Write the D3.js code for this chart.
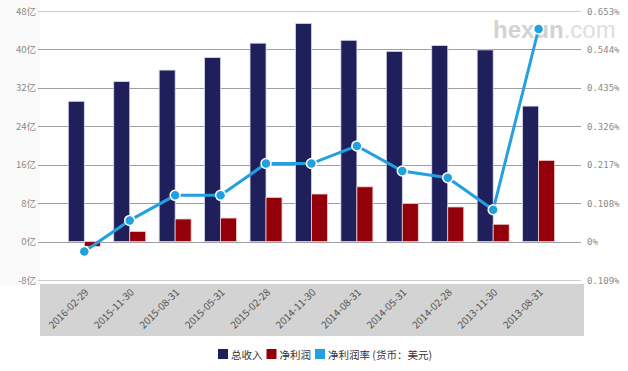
<!DOCTYPE html>
<html>
<head>
<meta charset="utf-8">
<script src="https://cdn.jsdelivr.net/npm/d3@7"></script>
<style>
	body { margin: 0; background: #fff; }
	#outer { width: 628px; height: 371px; }
	text { font-family: 'Noto Sans CJK SC', 'DejaVu Sans', sans-serif; }
</style>
</head>
<body>
<div id="outer"></div>
<script>
// data (亿 / %)
const categories = ['2016-02-29', '2015-11-30', '2015-08-31', '2015-05-31', '2015-02-28', '2014-11-30',
	'2014-08-31', '2014-05-31', '2014-02-28', '2013-11-30', '2013-08-31'];
const revenue = [29.2, 33.3, 35.7, 38.3, 41.3, 45.4, 41.9, 39.6, 40.8, 39.9, 28.2];
const profit = [-1.0, 2.1, 4.7, 4.9, 9.2, 9.9, 11.4, 7.9, 7.2, 3.6, 16.9];
const margin = [-0.028, 0.060, 0.131, 0.131, 0.221, 0.221, 0.271, 0.200, 0.181, 0.090, 0.602];
const leftTicks = [-8, 0, 8, 16, 24, 32, 40, 48];
const rightTicks = ['0.109%', '0%', '0.108%', '0.217%', '0.326%', '0.435%', '0.544%', '0.653%'];
const legendItems = [
	{name: '总收入', color: '#1f1f5c'},
	{name: '净利润', color: '#93000a'},
	{name: '净利润率 (货币：美元)', color: '#23a0e0'}
];

function drawChart () {
	const W = 628, H = 371;
	const plotLeft = 38, plotRight = 581, plotTop = 11, plotBottom = 280;
	const textColor = '#8a8a8a';

	const svg = d3.select('#outer').append('svg')
		.attr('width', W)
		.attr('height', H);

	const y = d3.scaleLinear().domain([-8, 48]).range([plotBottom, plotTop]);
	const yR = d3.scaleLinear().domain([-0.10883, 0.653]).range([plotBottom, plotTop]);
	const x = d3.scaleBand().domain(categories).range([68.3, 554.6]).paddingInner(0.296).paddingOuter(0);
	const bw = x.bandwidth() / 2;
	const cx = d => x(d) + x.bandwidth() / 2;

	// left panel + category band
	svg.append('rect').attr('x', 0).attr('y', 0).attr('width', 40).attr('height', 285).attr('fill', '#f9f9f9');
	svg.append('rect').attr('x', 40).attr('y', 284).attr('width', 544).attr('height', 52).attr('fill', '#d3d3d3');

	// watermark
	const wm = svg.append('text').attr('x', 493).attr('y', 38).style('font-family', 'Arial, Liberation Sans, sans-serif').style('font-size', '24px');
	wm.append('tspan').text('hexun').attr('fill', '#d2d2d2').style('font-weight', 'bold');
	wm.append('tspan').text('.com').attr('fill', '#dedede');

	// grid
	svg.append('g').selectAll('line')
		.data(leftTicks)
		.join('line')
		.attr('x1', plotLeft).attr('x2', plotRight)
		.attr('y1', d => Math.round(y(d)) + 0.5).attr('y2', d => Math.round(y(d)) + 0.5)
		.attr('stroke', (d, i) => (i === 0 || i === leftTicks.length - 1) ? '#cccccc' : '#9e9e9e')
		.attr('stroke-width', 1);

	// left axis labels
	svg.append('g').selectAll('text')
		.data(leftTicks)
		.join('text')
		.attr('x', 36).attr('y', d => y(d) + 3.5)
		.attr('text-anchor', 'end')
		.attr('fill', textColor)
		.style('font-size', '9.5px')
		.text(d => d + '亿');

	// right axis labels
	svg.append('g').selectAll('text')
		.data(rightTicks)
		.join('text')
		.attr('x', 587).attr('y', (d, i) => y(leftTicks[i]) + 3.5)
		.attr('fill', textColor)
		.style('font-family', 'DejaVu Sans Mono, monospace')
		.style('font-size', '9px')
		.text(d => d);

	// bars
	svg.append('g').selectAll('rect')
		.data(categories)
		.join('rect')
		.attr('x', d => x(d)).attr('width', bw)
		.attr('y', (d, i) => y(Math.max(0, revenue[i])))
		.attr('height', (d, i) => Math.abs(y(revenue[i]) - y(0)))
		.attr('fill', legendItems[0].color)
		.attr('stroke', '#d8d8ea').attr('stroke-width', 0.8);
	svg.append('g').selectAll('rect')
		.data(categories)
		.join('rect')
		.attr('x', d => x(d) + bw).attr('width', bw)
		.attr('y', (d, i) => y(Math.max(0, profit[i])))
		.attr('height', (d, i) => Math.abs(y(profit[i]) - y(0)))
		.attr('fill', legendItems[1].color)
		.attr('stroke', '#ecd0d0').attr('stroke-width', 0.8);

	// margin line
	const line = d3.line().x((d, i) => cx(categories[i])).y(d => yR(d));
	svg.append('path')
		.datum(margin)
		.attr('d', line)
		.attr('fill', 'none')
		.attr('stroke', legendItems[2].color)
		.attr('stroke-width', 3);
	svg.append('g').selectAll('circle')
		.data(margin)
		.join('circle')
		.attr('cx', (d, i) => cx(categories[i])).attr('cy', d => yR(d))
		.attr('r', 5)
		.attr('fill', legendItems[2].color)
		.attr('stroke', '#fff').attr('stroke-width', 1.5);

	// category labels
	svg.append('g').selectAll('text')
		.data(categories)
		.join('text')
		.attr('transform', d => `translate(${cx(d)}, 288) rotate(-45)`)
		.attr('text-anchor', 'end')
		.attr('dy', '0.7em')
		.attr('fill', '#555')
		.style('font-size', '10px')
		.text(d => d);

	// legend
	let lx = 218;
	const legend = svg.append('g').attr('transform', 'translate(0, 349)');
	legendItems.forEach(item => {
		legend.append('rect').attr('x', lx).attr('y', 0).attr('width', 10).attr('height', 10).attr('fill', item.color);
		const t = legend.append('text').attr('x', lx + 13).attr('y', 9.5)
			.attr('fill', '#333').style('font-size', '10.5px').text(item.name);
		lx += 13 + t.node().getComputedTextLength() + 4;
	});
}

drawChart();
</script>
</body>
</html>
